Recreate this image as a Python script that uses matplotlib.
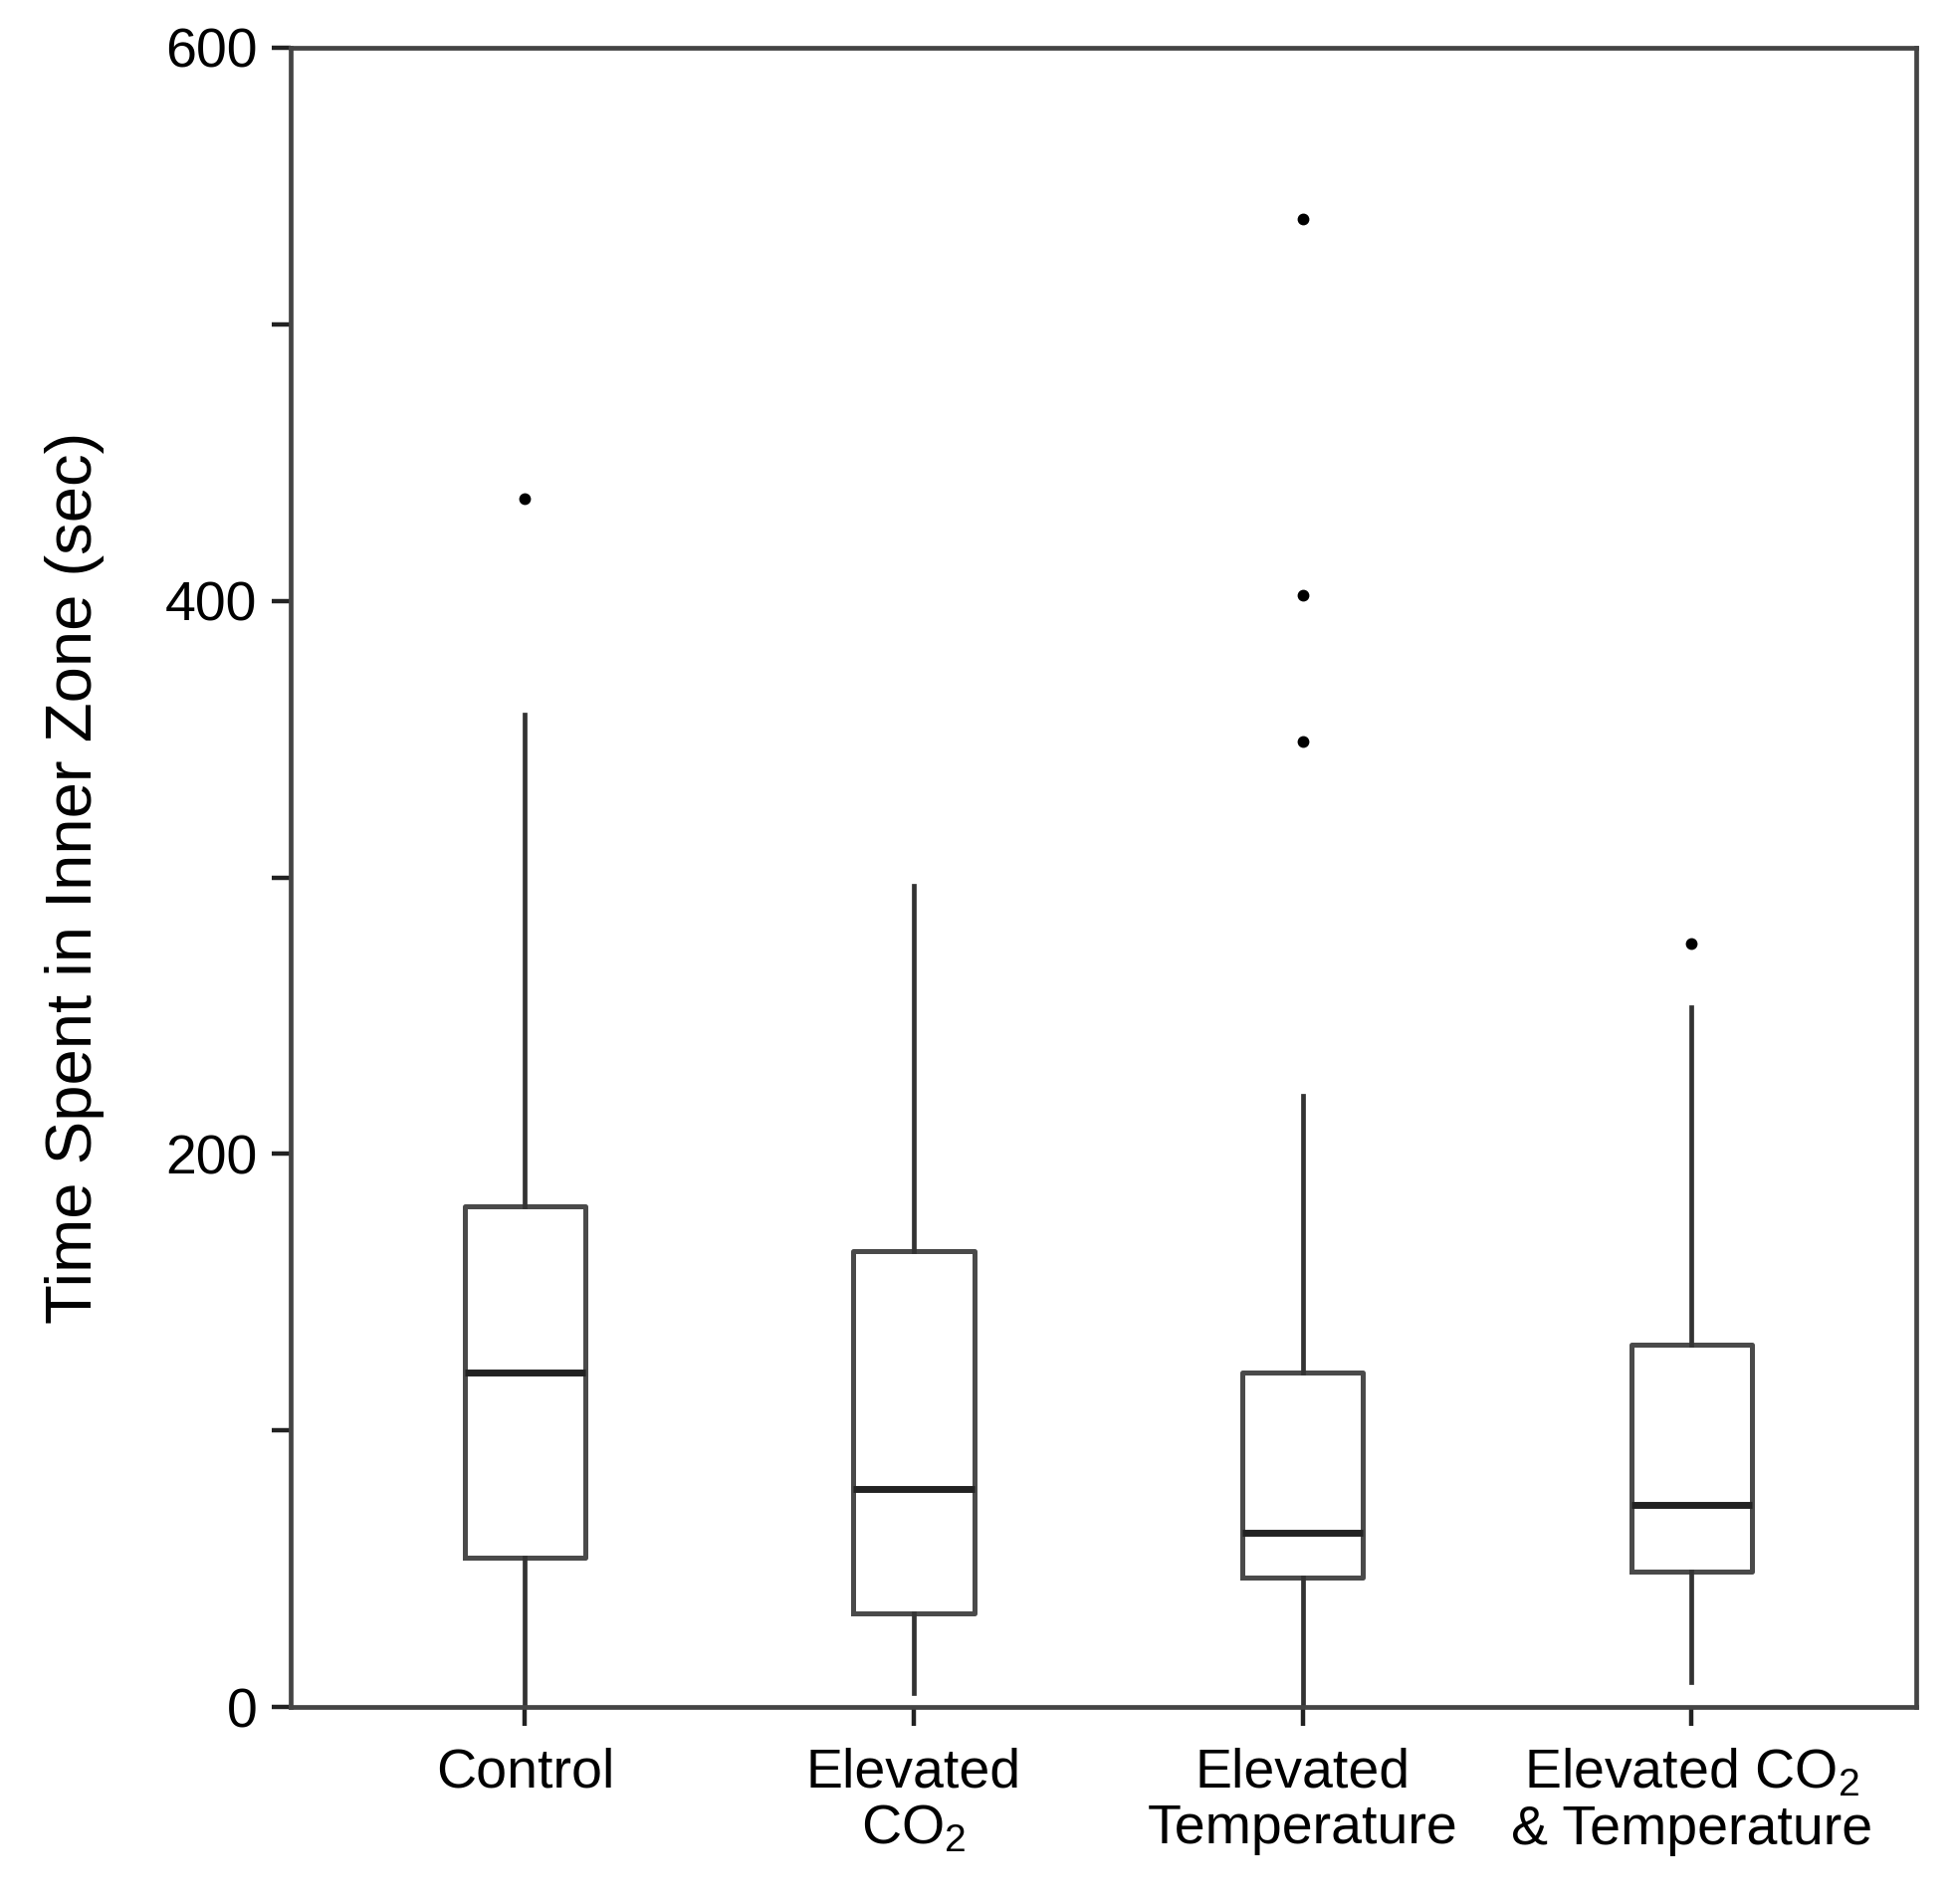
import matplotlib
matplotlib.use("Agg")
import matplotlib.pyplot as plt
from matplotlib.ticker import MultipleLocator

plt.rcParams['font.family'] = ['Liberation Sans', 'DejaVu Sans']
plt.rcParams['mathtext.default'] = 'regular'

# Box summary values (sec)
groups = ['Control', 'Elevated\nCO$_2$', 'Elevated\nTemperature',
          'Elevated CO$_2$\n& Temperature']
whisker_low = [0, 5, 0, 9]
q1 = [54, 34, 47, 49]
medians = [121, 79, 63, 73]
q3 = [181, 165, 121, 131]
whisker_high = [359, 297, 221, 253]
outliers = [[437], [], [538, 402, 349], [276]]

stats = []
for i, name in enumerate(groups):
    stats.append({
        'label': name,
        'whislo': whisker_low[i],
        'q1': q1[i],
        'med': medians[i],
        'q3': q3[i],
        'whishi': whisker_high[i],
        'fliers': outliers[i],
    })

fig = plt.figure(figsize=(19.64, 19.13), dpi=100)
ax = fig.add_axes([0.1486, 0.1034, 0.8314, 0.8716])

ax.bxp(stats, positions=[1, 2, 3, 4], widths=0.31, showcaps=False,
       boxprops=dict(color='#4a4a4a', linewidth=3.6),
       medianprops=dict(color='#222222', linewidth=5.0),
       whiskerprops=dict(color='#333333', linewidth=3.4),
       flierprops=dict(marker='o', markerfacecolor='black',
                       markeredgecolor='black', markersize=7.5))

ax.set_xlim(0.397, 4.577)
ax.set_ylim(0, 600)
ax.yaxis.set_major_locator(MultipleLocator(200))
ax.yaxis.set_minor_locator(MultipleLocator(100))

for side in ['left', 'right', 'top', 'bottom']:
    ax.spines[side].set_color('#444444')
    ax.spines[side].set_linewidth(3.4)

ax.tick_params(axis='both', which='both', direction='out', length=14,
               width=3.2, color='#222222', labelsize=40)
ax.tick_params(axis='y', pad=10)
ax.tick_params(axis='x', pad=15)
for lab in ax.get_xticklabels():
    lab.set_linespacing(1.12)

ax.set_ylabel('Time Spent in Inner Zone (sec)', fontsize=47, labelpad=44)

fig.savefig('out.png', dpi=100, facecolor='white')
